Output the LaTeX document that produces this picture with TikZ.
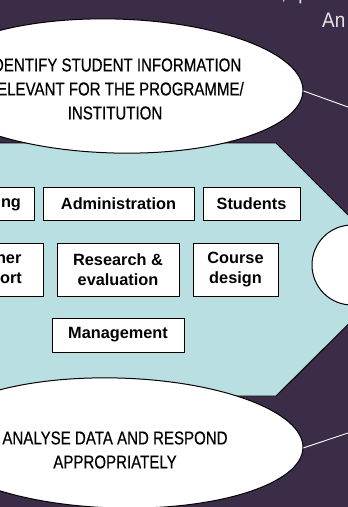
\documentclass[tikz,border=0pt]{standalone}
\usepackage{fontspec}
\setmainfont{Liberation Sans}
\newfontfamily\narrowsans[FakeStretch=0.81,FakeBold=0.4]{Liberation Sans}
\newfontfamily\headsans[FakeStretch=0.9]{Liberation Sans}
\usetikzlibrary{shapes.geometric}
\definecolor{slidebg}{HTML}{3B2C47}
\definecolor{panelblue}{HTML}{B9DFE2}
\definecolor{headgrey}{HTML}{E4E4E4}

\begin{document}
\begin{tikzpicture}[x=1pt,y=-1pt,
  bubble/.style={ellipse, draw=black, line width=1pt, fill=white, inner sep=0pt},
  stagetext/.style={font=\narrowsans\fontsize{18.6}{24}\selectfont, align=center, text=black, inner sep=0pt},
  area/.style={rectangle, draw=black, line width=0.9pt, fill=white, inner sep=0pt,
    font=\bfseries\fontsize{16.3}{19.5}\selectfont, align=center},
  link/.style={draw=white, line width=0.9pt},
  headline/.style={font=\headsans\fontsize{21}{25}\selectfont, text=headgrey, inner sep=0pt}]
\useasboundingbox (0,0) rectangle (348,507);
\clip (0,0) rectangle (348,507);
\fill[slidebg] (-10,-10) rectangle (360,520);

% heading text running in from the right
\node[headline, anchor=base west] (headtop) at (281,-1) {,\kern 12pt p};
\node[headline, anchor=base west] (headan) at (322,27) {An};

% central panel
\filldraw[fill=panelblue, draw=black, line width=0.9pt]
  (-80,143) -- (276,143) -- (403,270) -- (276,396) -- (-80,396) -- cycle;

% stage ellipses
\node[bubble, minimum width=376pt, minimum height=134pt, rotate=-1.5] (identify) at (115,86) {};
\node[stagetext] (identifytext) at (115,89) {IDENTIFY STUDENT INFORMATION\\RELEVANT FOR THE PROGRAMME/\\INSTITUTION};

\node[bubble, minimum width=372pt, minimum height=130pt, rotate=-1.5] (analyse) at (117,443) {};
\node[stagetext] (analysetext) at (115,450) {ANALYSE DATA AND RESPOND\\APPROPRIATELY};

\node[bubble, minimum width=80pt, minimum height=80pt] (review) at (352,265) {};

% connectors towards the right
\coordinate (upperend) at (420,133);
\coordinate (lowerend) at (420,409);
\draw[link] (identify.east) -- (upperend);
\draw[link] (analyse.east) -- (lowerend);

% areas of use
\node[area, minimum width=95pt, minimum height=33pt] (planning) at (-13.5,203.5) {Planning};
\node[area, minimum width=151pt, minimum height=33pt] (admin) at (118.5,203.5) {Administration};
\node[area, minimum width=97pt, minimum height=33pt] (students) at (251.5,203.5) {Students};

\node[area, minimum width=103pt, minimum height=53pt] (support) at (-8.5,269.5) {Learner\\support};
\node[area, minimum width=122pt, minimum height=53pt] (research) at (118,269.5) {Research \&\\evaluation};
\node[area, minimum width=85pt, minimum height=53pt] (course) at (235.5,269.5) {Course\\design};

\node[area, minimum width=132pt, minimum height=34pt] (management) at (118,335) {Management};
\end{tikzpicture}
\end{document}
